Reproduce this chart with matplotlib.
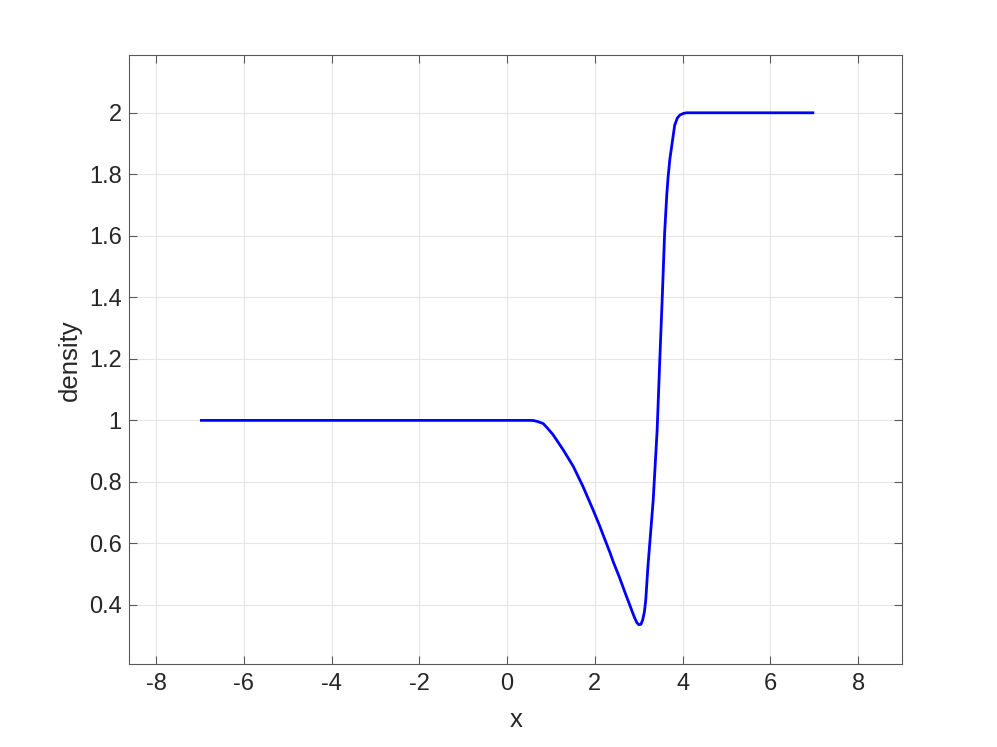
import matplotlib
matplotlib.use("Agg")
import matplotlib.pyplot as plt

x_vals = [-7.0, 0.0, 0.55, 0.62, 0.7, 0.82, 0.92, 1.05, 1.28, 1.51, 1.73, 1.96, 2.11, 2.19, 2.34,
          2.42, 2.56, 2.72, 2.79, 2.86, 2.91, 2.96, 3.0, 3.05, 3.09, 3.13, 3.16, 3.21, 3.27, 3.33,
          3.42, 3.48, 3.54, 3.59, 3.64, 3.67, 3.71, 3.75, 3.82, 3.88, 3.94, 4.02, 4.09, 4.3, 7.0]
density = [1.0, 1.0, 1.0, 0.999, 0.996, 0.99, 0.975, 0.953, 0.904, 0.850, 0.785, 0.709, 0.657, 0.627, 0.572,
           0.540, 0.490, 0.428, 0.402, 0.375, 0.357, 0.342, 0.336, 0.337, 0.351, 0.378, 0.416, 0.525, 0.633, 0.741,
           0.969, 1.196, 1.413, 1.608, 1.735, 1.792, 1.85, 1.89, 1.96, 1.983, 1.993, 1.998, 2.0, 2.0, 2.0]

xticks = [-8, -6, -4, -2, 0, 2, 4, 6, 8]
yticks = [0.4, 0.6, 0.8, 1.0, 1.2, 1.4, 1.6, 1.8, 2.0]
ytick_labels = ["0.4", "0.6", "0.8", "1", "1.2", "1.4", "1.6", "1.8", "2"]

plt.rcParams['font.family'] = ['Liberation Sans', 'DejaVu Sans']

fig = plt.figure(figsize=(9.97, 7.47), dpi=100)
ax = fig.add_axes([0.1297, 0.1107, 0.775, 0.8153])
ax.plot(x_vals, density, color=(0, 0, 1), linewidth=2.0,
        solid_joinstyle='round', solid_capstyle='butt')

ax.set_xlim(-8.61, 9.0)
ax.set_ylim(0.207, 2.187)
ax.set_xticks(xticks)
ax.set_xticklabels([str(t) for t in xticks])
ax.set_yticks(yticks)
ax.set_yticklabels(ytick_labels)

ax.grid(True, color='#e6e6e6', linewidth=0.8)
ax.set_axisbelow(True)
for s in ax.spines.values():
    s.set_color('#5a5a5a')
    s.set_linewidth(0.8)
ax.tick_params(direction='in', length=6, width=0.8, color='#5a5a5a',
               labelsize=17, labelcolor='#262626', top=True, right=True)
ax.tick_params(axis='x', pad=6.5)
ax.tick_params(axis='y', pad=5.5)

ax.set_xlabel('x', fontsize=18.5, color='#262626', labelpad=9)
ax.set_ylabel('density', fontsize=18.5, color='#262626', labelpad=5)

fig.savefig('out.png', dpi=100)
